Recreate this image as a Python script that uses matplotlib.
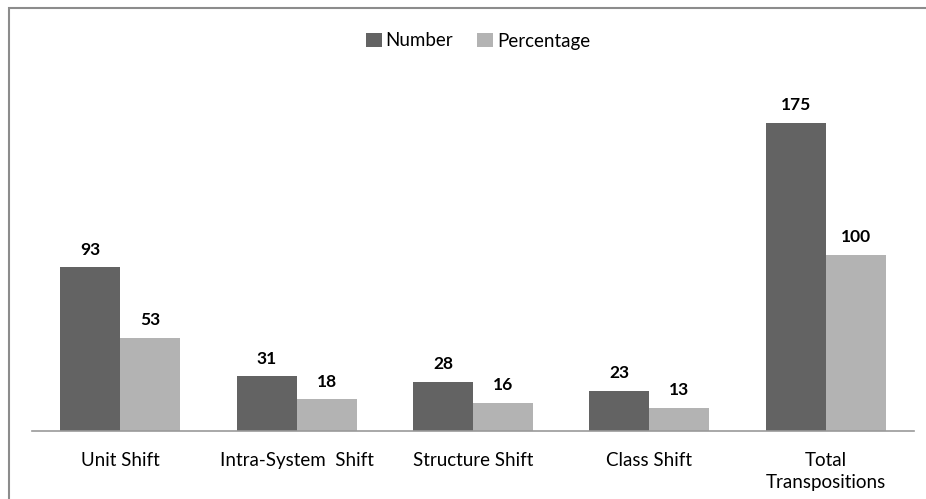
import matplotlib
matplotlib.use('Agg')
import numpy as np
import matplotlib.pyplot as plt
from matplotlib.patches import Rectangle

categories = ['Unit Shift', 'Intra-System  Shift', 'Structure Shift', 'Class Shift', 'Total\nTranspositions']
number = [93, 31, 28, 23, 175]
percentage = [53, 18, 16, 13, 100]

dark = '#636363'
light = '#b3b3b3'

plt.rcParams['font.family'] = ['Lato', 'DejaVu Sans']

W, H = 926, 499
fig = plt.figure(figsize=(W / 100, H / 100), dpi=100)

# outer chart frame (right and bottom sides lie outside the image)
fig.patches.append(Rectangle((8.5 / W, -0.2), 1.3, 1 - 8.5 / H + 0.2,
                             transform=fig.transFigure, fill=False,
                             edgecolor='#8c8c8c', linewidth=1.5))

ax = fig.add_axes([32 / W, 1 - 431 / H, (914 - 32) / W, (431 - 79) / H])

x = np.arange(len(categories))
bw = 0.34
b1 = ax.bar(x - bw / 2, number, bw, color=dark, label='Number')
b2 = ax.bar(x + bw / 2, percentage, bw, color=light, label='Percentage')

for bars in (b1, b2):
    for b in bars:
        ax.text(b.get_x() + b.get_width() / 2, b.get_height() + 5.5,
                '%d' % b.get_height(), ha='center', va='bottom',
                fontsize=12.5, fontweight='bold')

ax.set_xlim(-0.5, len(categories) - 0.5)
ax.set_ylim(0, 200)
ax.set_yticks([])
ax.set_xticks(x)
ax.set_xticklabels(categories, fontsize=13.5, linespacing=1.4)
ax.tick_params(axis='x', length=0, pad=15)
for s in ['top', 'right', 'left']:
    ax.spines[s].set_visible(False)
ax.spines['bottom'].set_color('#999999')
ax.spines['bottom'].set_linewidth(1.2)

fig.legend(loc='center', bbox_to_anchor=(478 / W, 1 - 41 / H), ncol=2,
           frameon=False, fontsize=13.5, handlelength=0.85, handleheight=0.85,
           handletextpad=0.2, columnspacing=1.3)

fig.savefig('out.png', dpi=100, facecolor='white')
